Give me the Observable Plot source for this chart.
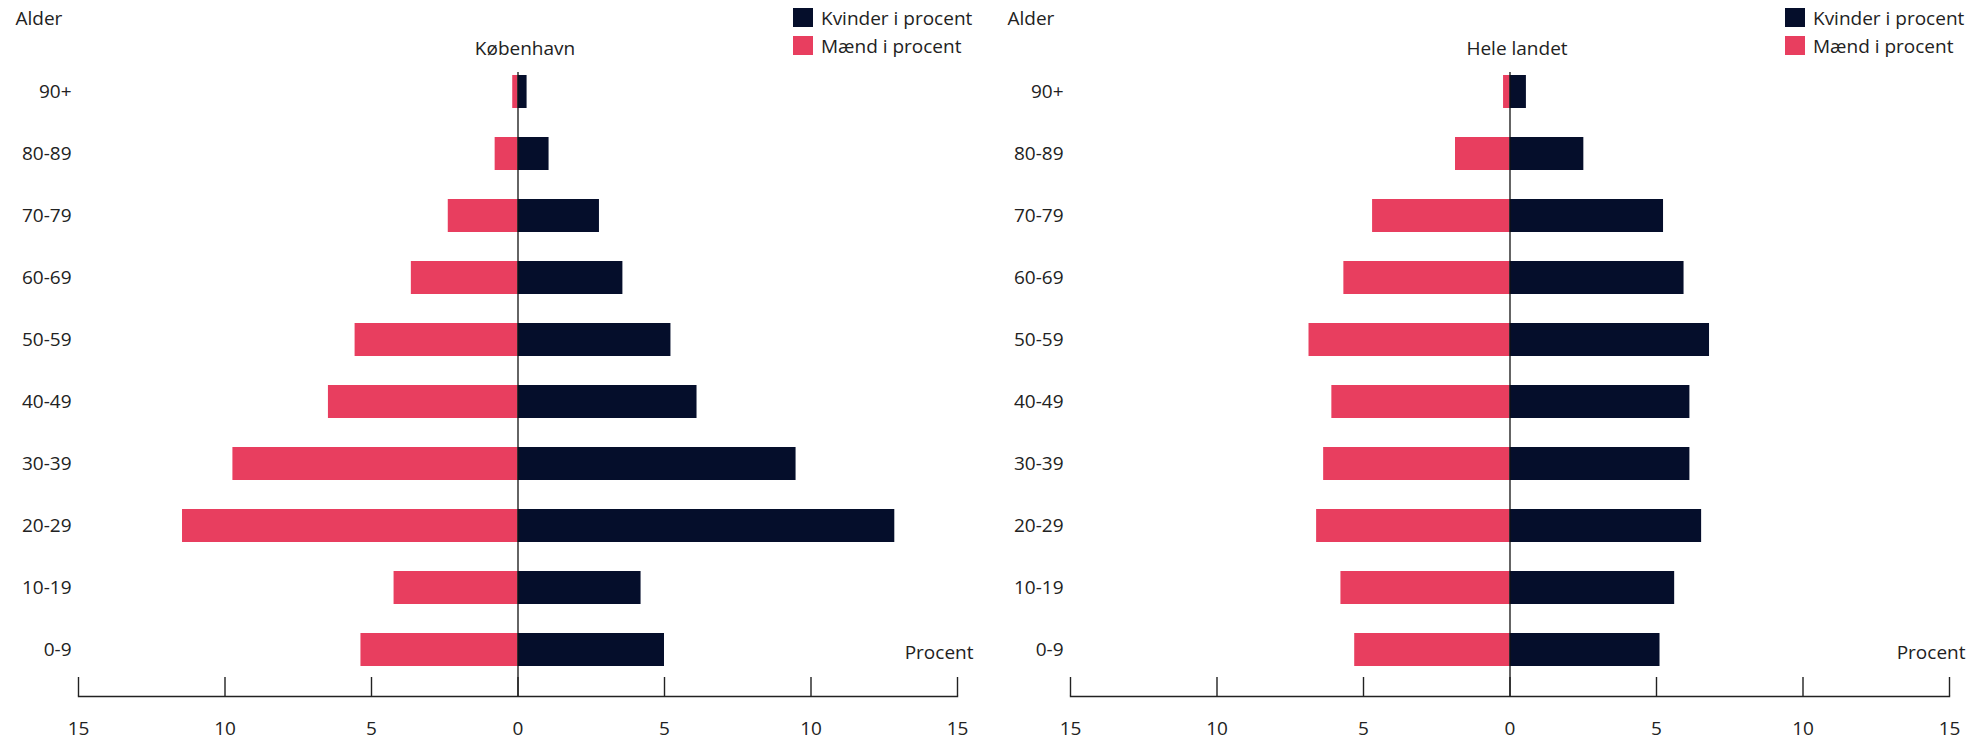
<!DOCTYPE html>
<html>
<head>
<meta charset="utf-8">
<script src="https://cdn.jsdelivr.net/npm/d3@7"></script>
<script src="https://cdn.jsdelivr.net/npm/@observablehq/plot@0.6"></script>
<style>
  html, body { margin: 0; padding: 0; background: #fff; }
  #root { position: relative; width: 1975px; height: 740px; overflow: hidden; font-family: 'Open Sans', sans-serif; color: #222; }
  .panel { position: absolute; top: 0; width: 983px; height: 740px; }
  .legend { position: absolute; left: 793px; top: 8px; font-size: 19px; }
  .legend .row { display: flex; align-items: center; height: 19px; margin-bottom: 9px; white-space: nowrap; }
  .legend .sw { width: 20px; height: 19px; margin-right: 8px; }
</style>
</head>
<body>
<div id="root"></div>
<script>
const ages = ["90+", "80-89", "70-79", "60-69", "50-59", "40-49", "30-39", "20-29", "10-19", "0-9"];
const kbhKvinder = [0.31, 1.06, 2.78, 3.58, 5.22, 6.11, 9.49, 12.86, 4.20, 5.00];
const kbhMaend   = [0.18, 0.78, 2.38, 3.64, 5.56, 6.47, 9.73, 11.45, 4.23, 5.36];
const landKvinder = [0.56, 2.52, 5.24, 5.94, 6.81, 6.14, 6.14, 6.54, 5.62, 5.12];
const landMaend   = [0.22, 1.86, 4.69, 5.67, 6.86, 6.08, 6.36, 6.60, 5.77, 5.30];
const xTicks = [-15, -10, -5, 0, 5, 10, 15];
const seriesNames = ["Kvinder i procent", "Mænd i procent"];
const panelTitles = ["København", "Hele landet"];

const NAVY = "#050e2b";
const RED = "#e83e5f";
const INK = "#222";
const FS = 19;

function panel(title, kv, mae) {
  const data = ages.map((a, i) => ({age: a, kvinder: kv[i], maend: mae[i]}));
  return Plot.plot({
    width: 983, height: 740,
    marginLeft: 78, marginRight: 26, marginTop: 72, marginBottom: 44,
    style: {fontFamily: "'Open Sans', sans-serif", fontSize: FS + "px", color: INK, background: "transparent", overflow: "visible"},
    x: {domain: [-15, 15], axis: null},
    y: {domain: ages, range: [72, 668.5], paddingInner: 0.473, paddingOuter: 0, axis: null},
    marks: [
      Plot.barX(data, {y: "age", x1: 0, x2: d => -d.maend, fill: RED}),
      Plot.barX(data, {y: "age", x1: 0, x2: d => d.kvinder, fill: NAVY}),
      Plot.ruleX([0], {stroke: "#111", strokeWidth: 1.3}),
      Plot.frame({anchor: "bottom", stroke: INK, strokeWidth: 1.4}),
      Plot.ruleX(xTicks, {x: d => d, insetTop: 605, stroke: INK, strokeWidth: 1.4}),
      Plot.text(xTicks, {x: d => d, text: d => String(Math.abs(d)), frameAnchor: "bottom", dy: 32, lineAnchor: "middle", fill: INK, fontSize: FS}),
      Plot.text(ages, {y: d => d, text: d => d, frameAnchor: "left", dx: -7, textAnchor: "end", lineAnchor: "middle", fill: INK, fontSize: FS}),
      Plot.text([title], {x: () => 0, text: d => d, frameAnchor: "top", dx: 7, dy: -24, lineAnchor: "middle", fill: INK, fontSize: FS}),
      Plot.text([{x: 15, y: "0-9", t: "Procent"}], {x: "x", y: "y", text: "t", textAnchor: "end", dx: 16, dy: 3, lineAnchor: "middle", fill: INK, fontSize: FS}),
      Plot.text(["Alder"], {text: d => d, frameAnchor: "top-left", dx: -63, dy: -54, textAnchor: "start", lineAnchor: "middle", fill: INK, fontSize: FS})
    ]
  });
}

const root = document.getElementById("root");
const specs = [
  {left: 0, title: panelTitles[0], kv: kbhKvinder, mae: kbhMaend},
  {left: 992, title: panelTitles[1], kv: landKvinder, mae: landMaend}
];
for (const s of specs) {
  const div = document.createElement("div");
  div.className = "panel";
  div.style.left = s.left + "px";
  div.appendChild(panel(s.title, s.kv, s.mae));
  const lg = document.createElement("div");
  lg.className = "legend";
  [[seriesNames[0], NAVY], [seriesNames[1], RED]].forEach(([name, col]) => {
    const row = document.createElement("div");
    row.className = "row";
    const sw = document.createElement("span");
    sw.className = "sw";
    sw.style.background = col;
    const tx = document.createElement("span");
    tx.textContent = name;
    row.appendChild(sw);
    row.appendChild(tx);
    lg.appendChild(row);
  });
  div.appendChild(lg);
  root.appendChild(div);
}
</script>
</body>
</html>
